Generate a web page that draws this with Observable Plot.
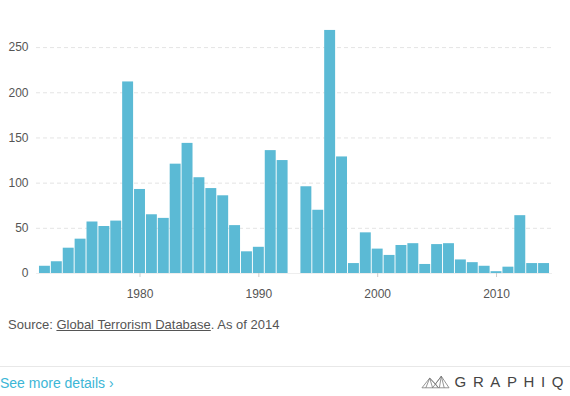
<!DOCTYPE html>
<html>
<head>
<meta charset="utf-8">
<script src="https://cdn.jsdelivr.net/npm/d3@7"></script>
<script src="https://cdn.jsdelivr.net/npm/@observablehq/plot@0.6"></script>
<style>
  html, body { margin: 0; padding: 0; background: #fff; }
  body { width: 570px; height: 396px; position: relative; overflow: hidden; font-family: "Liberation Sans", Arial, sans-serif; }
  #chart { position: absolute; left: 0; top: 0; }
  #source { position: absolute; left: 8px; top: 317px; font-size: 13px; color: #555; }
  #source a { color: #555; text-decoration: underline; }
  #sep { position: absolute; left: 0; top: 366px; width: 570px; height: 1px; background: #e8e8e8; }
  #more { position: absolute; left: 0; top: 375px; font-size: 14px; color: #3cb6d6; }
  #logo { position: absolute; right: 0px; top: 373px; display: flex; align-items: center; }
  #logo span { font-size: 15px; letter-spacing: 6.6px; color: #444; margin-left: 5px; white-space: nowrap; }
</style>
</head>
<body>
<div id="chart"></div>
<div id="source">Source: <a>Global Terrorism Database</a>. As of 2014</div>
<div id="sep"></div>
<div id="more">See more details ›</div>
<div id="logo">
  <svg width="29" height="16" viewBox="0 0 30 16">
    <g fill="none" stroke="#777" stroke-width="0.8">
      <polyline points="1,14 9,4 15,10 21,2 29,14"/>
      <polyline points="1,14 29,14"/>
      <polyline points="5,14 9,4 12,14"/>
      <polyline points="9,4 18,14"/>
      <polyline points="15,10 21,2 24,14"/>
      <polyline points="21,2 19,14"/>
      <polyline points="12,14 15,10 18,14"/>
    </g>
  </svg>
  <span>GRAPHIQ</span>
</div>
<script>
const years = d3.range(1972, 2015);
const values = [8, 13, 28, 38, 57, 52, 58, 212, 93, 65, 61, 121, 144, 106, 94, 86, 53, 24, 29, 136, 125, null, 96, 70, 269, 129, 11, 45, 27, 20, 31, 33, 10, 32, 33, 15, 12, 8, 2, 7, 64, 11, 11];
const yTicks = [0, 50, 100, 150, 200, 250];
const xTickLabels = [1980, 1990, 2000, 2010];

const data = years.map((y, i) => ({year: y, value: values[i]})).filter(d => d.value != null);

const chart = Plot.plot({
  width: 570,
  height: 310,
  marginLeft: 36,
  marginRight: 18,
  marginTop: 20,
  marginBottom: 37,
  style: {fontFamily: "'Liberation Sans', Arial, sans-serif", fontSize: "12px", color: "#555", background: "#fff"},
  x: {type: "band", domain: years, paddingInner: 0.08, paddingOuter: 0.25, label: null},
  y: {domain: [0, 280], label: null},
  marks: [
    Plot.ruleY(yTicks.slice(1), {stroke: "#e4e4e4", strokeDasharray: "4,3"}),
    Plot.barY(data, {x: "year", y: "value", fill: "#5bbad5"}),
    Plot.ruleY([0], {stroke: "#eeeeee"}),
    Plot.axisY({ticks: yTicks, tickSize: 0, tickPadding: 8, fontSize: 12, fill: "#555", label: null}),
    Plot.axisX({ticks: xTickLabels, tickFormat: d => String(d), tickSize: 4, tickPadding: 12, stroke: "#ccc", fill: "#555", fontSize: 12, label: null})
  ]
});
document.getElementById("chart").appendChild(chart);
</script>
</body>
</html>
